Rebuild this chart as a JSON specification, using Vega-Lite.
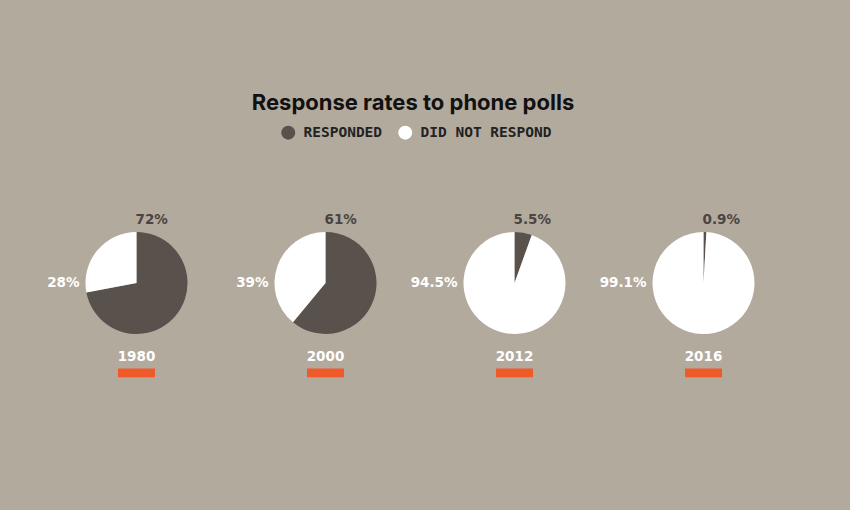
{
  "$schema": "https://vega.github.io/schema/vega-lite/v6.json",
  "background": "#b3aa9e",
  "padding": {"left": 42, "right": 52, "top": 92, "bottom": 201},
  "bounds": "flush",
  "title": {
    "text": "Response rates to phone polls",
    "font": "Inter",
    "fontSize": 22,
    "fontWeight": "bold",
    "color": "#111111",
    "anchor": "middle",
    "offset": 10,
    "dx": -7
  },
  "data": {
    "values": [
      {"year": "1980", "status": "RESPONDED", "value": 0.72},
      {"year": "1980", "status": "DID NOT RESPOND", "value": 0.28},
      {"year": "2000", "status": "RESPONDED", "value": 0.61},
      {"year": "2000", "status": "DID NOT RESPOND", "value": 0.39},
      {"year": "2012", "status": "RESPONDED", "value": 0.055},
      {"year": "2012", "status": "DID NOT RESPOND", "value": 0.945},
      {"year": "2016", "status": "RESPONDED", "value": 0.009},
      {"year": "2016", "status": "DID NOT RESPOND", "value": 0.991}
    ]
  },
  "facet": {"column": {"field": "year", "type": "ordinal", "header": null}},
  "spacing": 0,
  "spec": {
    "width": 189,
    "height": 180,
    "layer": [
      {
        "mark": {"type": "arc", "outerRadius": 51},
        "encoding": {
          "theta": {"field": "value", "type": "quantitative", "stack": true},
          "color": {
            "field": "status",
            "type": "nominal",
            "scale": {"domain": ["RESPONDED", "DID NOT RESPOND"], "range": ["#58514c", "#ffffff"]},
            "legend": {
              "orient": "none",
              "legendX": 239,
              "legendY": -68,
              "direction": "horizontal",
              "title": null,
              "symbolType": "circle",
              "symbolSize": 196,
              "symbolStrokeWidth": 0,
              "symbolOpacity": 1,
              "labelFont": "DejaVu Sans Mono",
              "labelFontSize": 14.5,
              "labelFontWeight": "bold",
              "labelColor": "#222222",
              "labelOffset": 8,
              "columnPadding": 15
            }
          },
          "order": {"field": "status", "sort": "descending"}
        }
      },
      {
        "transform": [{"filter": "datum.status == 'RESPONDED'"}],
        "mark": {"type": "text", "align": "left", "baseline": "middle", "dx": -1, "dy": -63, "font": "DejaVu Sans", "fontWeight": "bold", "fontSize": 13.5, "color": "#4a4541"},
        "encoding": {"text": {"field": "value", "type": "quantitative", "format": ".1~%"}}
      },
      {
        "transform": [{"filter": "datum.status == 'DID NOT RESPOND'"}],
        "mark": {"type": "text", "align": "right", "baseline": "middle", "dx": -57, "dy": 0, "font": "DejaVu Sans", "fontWeight": "bold", "fontSize": 13.5, "color": "#ffffff"},
        "encoding": {"text": {"field": "value", "type": "quantitative", "format": ".1~%"}}
      },
      {
        "transform": [{"filter": "datum.status == 'RESPONDED'"}],
        "mark": {"type": "text", "align": "center", "baseline": "middle", "dy": 74, "font": "DejaVu Sans", "fontWeight": "bold", "fontSize": 13.5, "color": "#ffffff"},
        "encoding": {"text": {"field": "year", "type": "nominal"}}
      },
      {
        "transform": [{"filter": "datum.status == 'RESPONDED'"}],
        "mark": {"type": "point", "shape": "M-1,4.62H1V5.1H-1Z", "size": 1369, "filled": true, "opacity": 1, "color": "#f05a2a", "strokeWidth": 0},
        "encoding": {}
      }
    ]
  },
  "config": {"view": {"stroke": null}, "facet": {"spacing": 0}}
}
